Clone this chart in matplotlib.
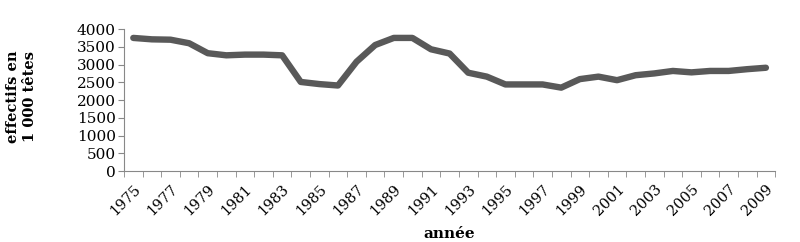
import matplotlib
matplotlib.use("Agg")
import matplotlib.pyplot as plt
import numpy as np

# data
years = list(range(1975, 2010))
effectifs = [3750, 3710, 3700, 3600, 3320, 3260, 3280, 3280, 3260,
             2510, 2450, 2410, 3080, 3550, 3750, 3750, 3430, 3310,
             2770, 2660, 2440, 2440, 2440, 2350, 2590, 2660, 2560,
             2700, 2750, 2820, 2780, 2820, 2820, 2870, 2910]
ytick_vals = [0, 500, 1000, 1500, 2000, 2500, 3000, 3500, 4000]

fig = plt.figure(figsize=(8, 2.42), dpi=100)
ax = fig.add_axes([0.155, 0.293, 0.814, 0.587])

x = np.arange(len(years))
ax.plot(x, effectifs, color="#595959", lw=4.6, solid_joinstyle="round", solid_capstyle="round")

ax.set_xlim(-0.5, len(years) - 0.5)
ax.set_ylim(0, 4000)
ax.set_yticks(ytick_vals)
ax.set_yticklabels([str(v) for v in ytick_vals], fontsize=11, family="DejaVu Serif")

# tick marks on category boundaries, labels every other year
ax.set_xticks(np.arange(-0.5, len(years)), minor=True)
ax.set_xticks(x[::2])
ax.set_xticklabels([str(y) for y in years[::2]], rotation=45, ha="right",
                   rotation_mode="anchor", fontsize=10.5, family="DejaVu Serif")
ax.tick_params(axis="x", which="major", length=0, pad=8)
ax.tick_params(axis="x", which="minor", length=4, color="#888888")
ax.tick_params(axis="y", length=4, color="#888888", pad=2)

for s in ["top", "right"]:
    ax.spines[s].set_visible(False)
for s in ["left", "bottom"]:
    ax.spines[s].set_color("#888888")
    ax.spines[s].set_linewidth(0.8)

fig.text(0.027, 0.6, "effectifs en\n1 000 têtes", rotation=90, ha="center", va="center",
         fontsize=10.5, fontweight="bold", family="DejaVu Serif", linespacing=1.25)
fig.text(0.562, 0.035, "année", ha="center", va="center",
         fontsize=11, fontweight="bold", family="DejaVu Serif")

fig.savefig("out.png", dpi=100)
